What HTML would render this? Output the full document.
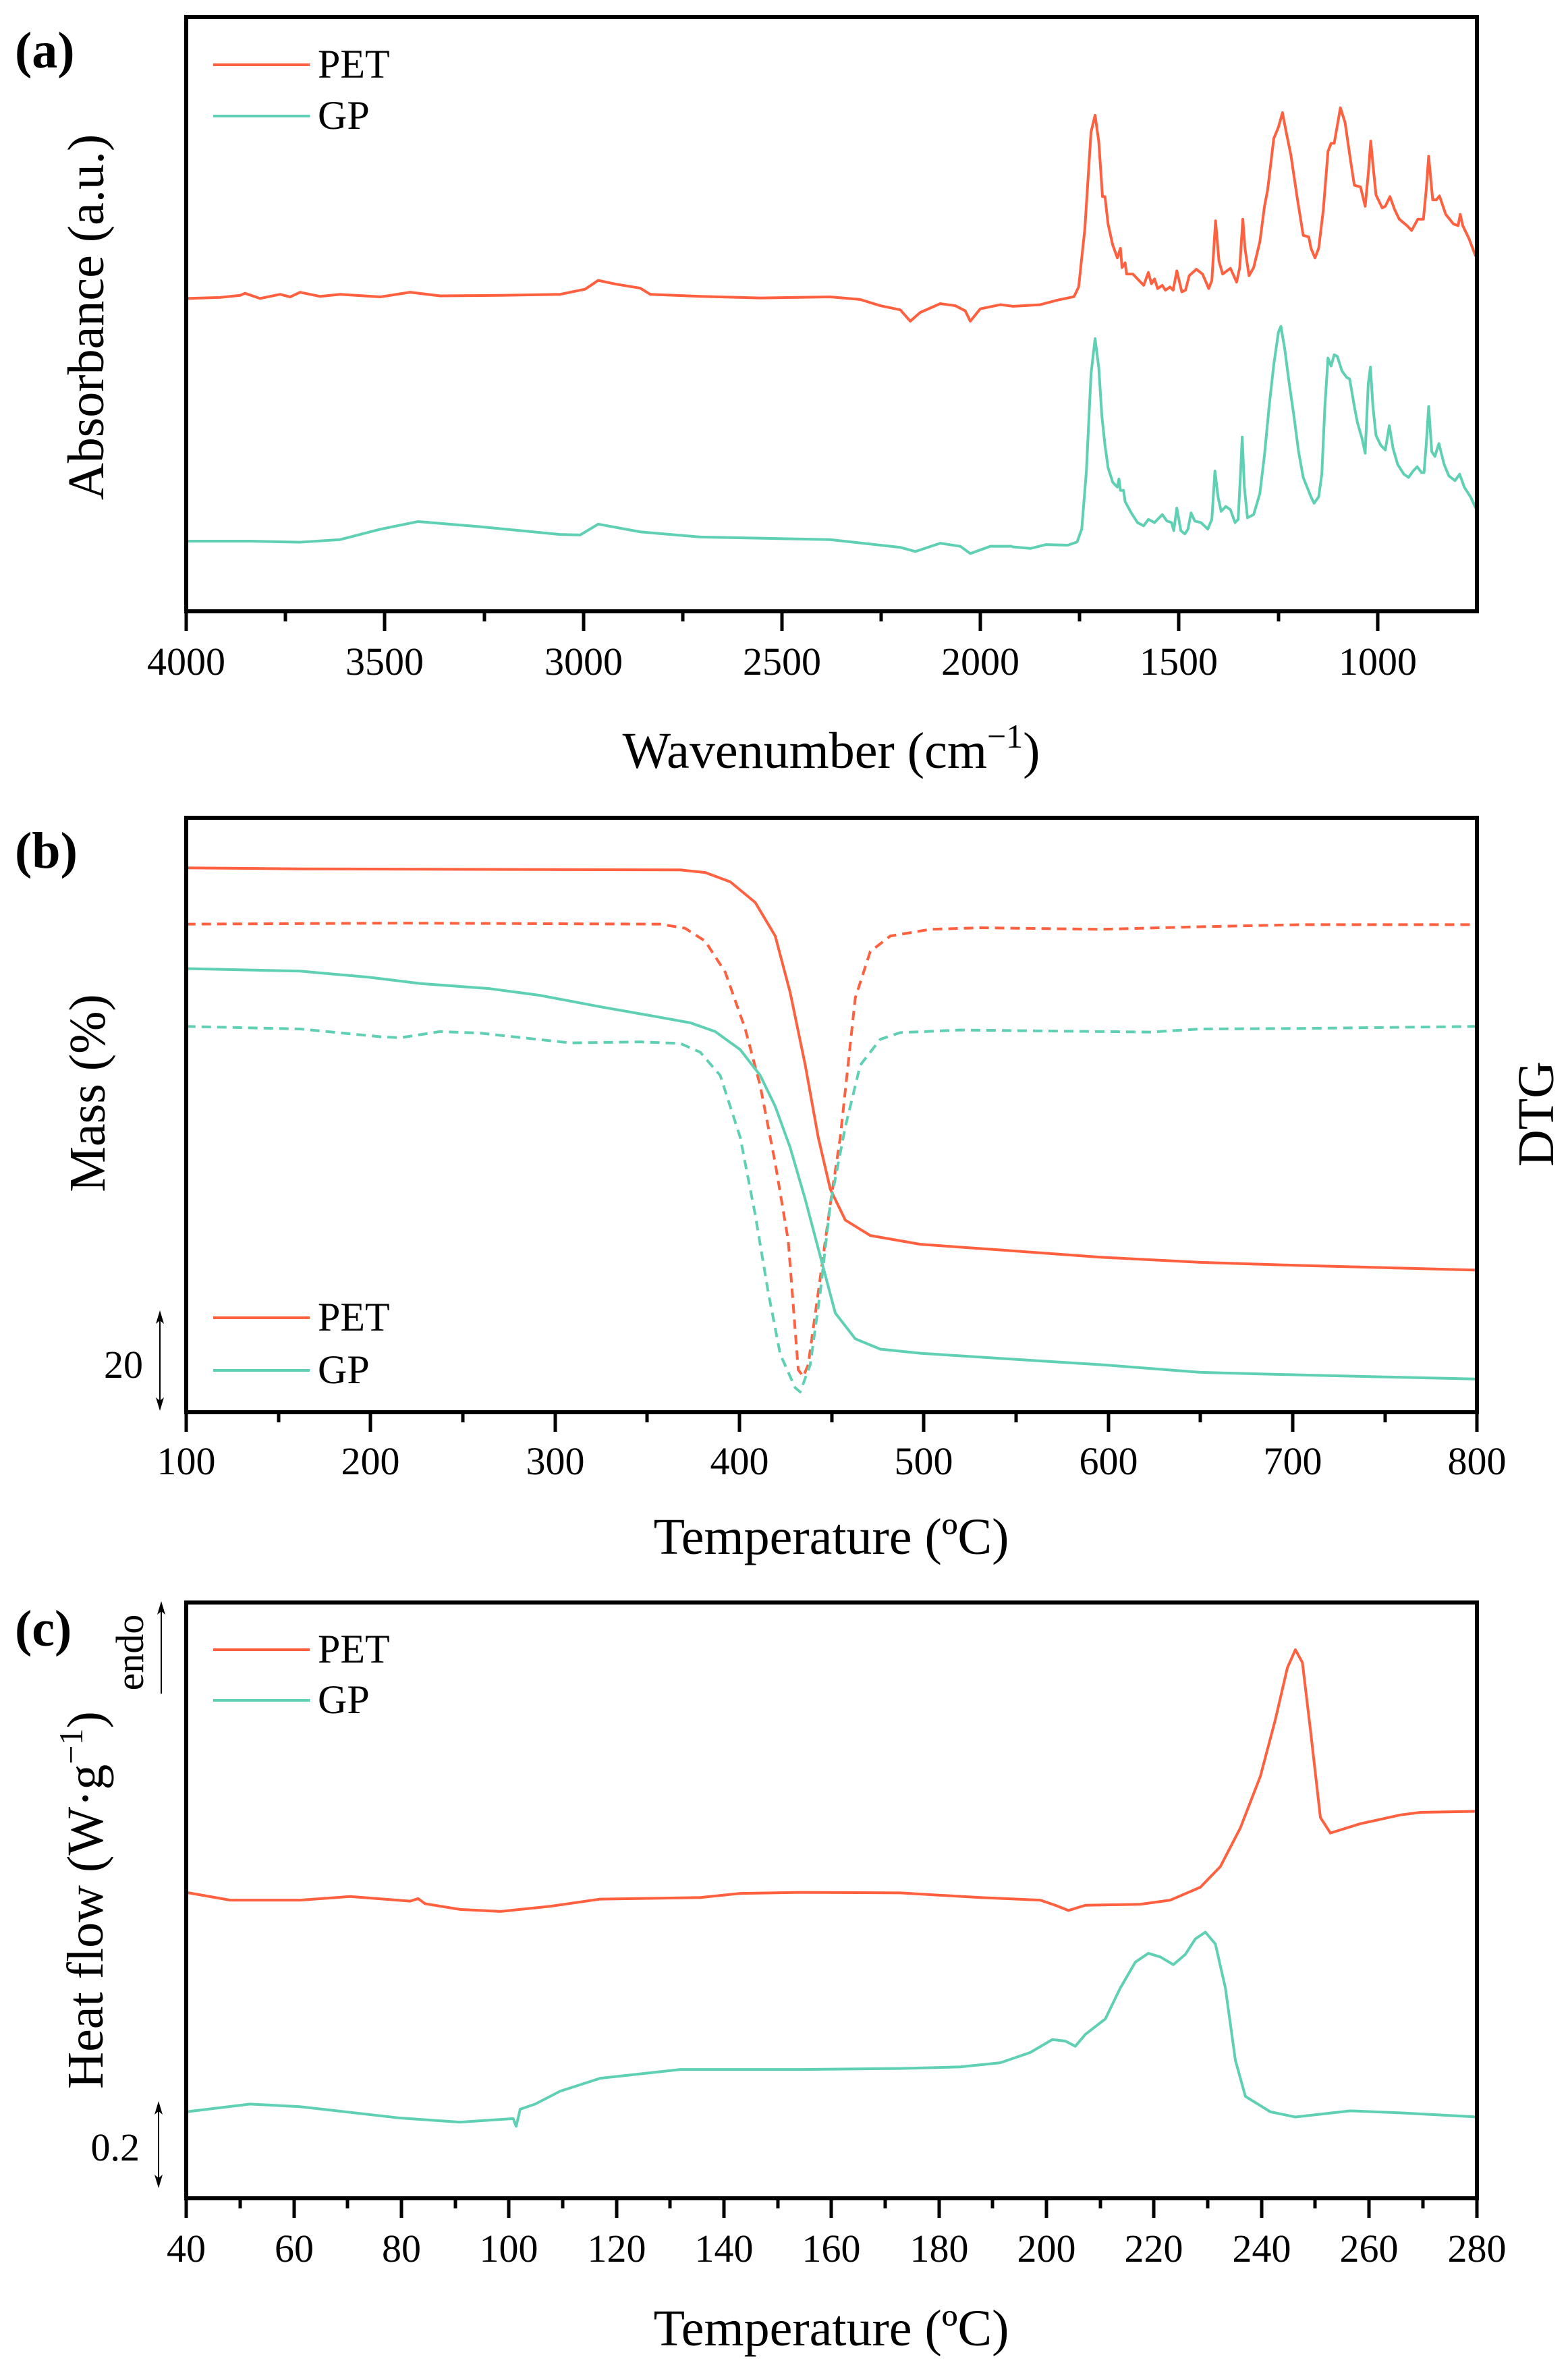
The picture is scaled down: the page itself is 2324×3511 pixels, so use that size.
<!DOCTYPE html>
<html><head><meta charset="utf-8"><style>
html,body{margin:0;padding:0;background:#fff;}
svg{display:block;}
text{font-family:"Liberation Serif",serif;fill:#000;}
.c{fill:none;stroke-width:4;vector-effect:non-scaling-stroke;stroke-linejoin:round;}
.p{stroke:#ff6140;}
.g{stroke:#5fd0b4;}
.d{stroke-dasharray:14 9;}
.t{font-size:58px;text-anchor:middle;}
.ti{font-size:76px;text-anchor:middle;}
.lg{font-size:60px;}
.lb{font-size:76px;font-weight:bold;}
</style></head><body>
<svg width="2324" height="3511" viewBox="0 0 2324 3511" xmlns="http://www.w3.org/2000/svg">

<!-- ============ PANEL A ============ -->
<text class="lb" x="22" y="100">(a)</text>
<g transform="scale(1.4826,0.7653)">
<polyline class="c p" points="186,578 220,576 240,572 245,568 260,578 280,570 290,575 300,566 320,574 340,570 380,575 410,566 440,573 500,572 560,570 585,560 598,543 615,550 640,558 650,570 700,574 760,577 830,575 860,580 880,592 900,600 910,622 920,605 940,588 955,592 965,602 970,622 980,598 1000,590 1012,593"/>
<polyline class="c g" points="186,1048 250,1048 300,1050 340,1045 380,1025 418,1010 480,1020 560,1035 580,1036 598,1015 640,1030 700,1040 830,1045 900,1060 915,1068 940,1052 960,1058 970,1072 990,1058 1012,1058"/>
</g>
<g transform="translate(1500,100) scale(0.4591,0.4784)">
<polyline class="c p" points="0,740 90,735 150,720 200,710 215,680 235,500 255,200 268,148 280,230 292,400 300,400 310,485 325,550 340,590 350,560 355,620 365,605 370,640 390,640 410,660 425,675 440,635 450,670 460,655 470,685 485,675 495,690 510,680 520,690 532,630 548,695 560,690 572,645 595,625 615,640 635,685 645,660 657,475 668,600 680,640 705,622 725,665 735,620 745,470 752,560 765,645 780,620 800,540 815,430 825,380 845,220 860,185 873,140 885,200 900,270 920,400 940,520 958,525 965,560 978,590 990,560 1005,440 1020,260 1030,235 1040,235 1060,125 1075,170 1090,270 1105,365 1125,370 1140,430 1150,330 1158,228 1165,300 1175,395 1195,435 1205,430 1220,400 1235,440 1250,470 1275,490 1290,505 1310,470 1328,470 1337,380 1345,275 1358,410 1370,410 1380,398 1400,455 1425,485 1440,490 1447,455 1455,490 1475,530 1497,585"/>
<polyline class="c g" points="0,1485 60,1490 110,1478 180,1480 210,1470 225,1430 240,1250 255,950 268,840 280,930 290,1080 300,1170 310,1240 325,1285 340,1300 345,1275 350,1310 360,1310 365,1345 385,1380 405,1410 425,1420 440,1400 460,1410 470,1400 485,1385 500,1405 515,1410 522,1435 532,1365 545,1435 558,1445 568,1430 578,1380 590,1405 610,1410 632,1430 645,1400 655,1250 665,1330 675,1375 690,1360 705,1370 720,1410 730,1400 738,1250 743,1145 750,1300 760,1395 780,1385 800,1320 815,1200 830,1050 845,920 860,820 868,802 880,870 895,980 910,1080 925,1190 940,1270 965,1330 975,1350 990,1330 1000,1260 1010,1050 1020,900 1030,925 1040,890 1050,895 1065,940 1080,960 1090,965 1105,1050 1115,1100 1130,1150 1140,1195 1150,980 1157,928 1165,1050 1175,1140 1190,1170 1205,1185 1218,1110 1230,1180 1245,1230 1265,1260 1280,1270 1295,1250 1308,1237 1322,1255 1330,1255 1337,1170 1345,1050 1355,1190 1365,1205 1378,1165 1395,1230 1410,1265 1430,1280 1445,1260 1460,1300 1480,1330 1497,1365"/>
</g>
<rect x="276" y="25" width="1913" height="881" fill="none" stroke="#000" stroke-width="6"/>
<g stroke="#000" stroke-width="5">
<path d="M276,906V935M570,906V935M865,906V935M1159,906V935M1453,906V935M1747,906V935M2042,906V935"/>
<path d="M423,906V921M718,906V921M1012,906V921M1306,906V921M1600,906V921M1895,906V921"/>
</g>
<text class="t" x="276" y="1000">4000</text><text class="t" x="570" y="1000">3500</text><text class="t" x="865" y="1000">3000</text><text class="t" x="1159" y="1000">2500</text><text class="t" x="1453" y="1000">2000</text><text class="t" x="1747" y="1000">1500</text><text class="t" x="2042" y="1000">1000</text>
<text class="ti" x="1232" y="1138">Wavenumber (cm<tspan font-size="50" dy="-30">−1</tspan><tspan dy="30">)</tspan></text>
<text class="ti" transform="translate(153,470) rotate(-90)" x="0" y="0">Absorbance (a.u.)</text>
<line x1="316" y1="96" x2="459" y2="96" class="c p"/>
<line x1="316" y1="172" x2="459" y2="172" class="c g"/>
<text class="lg" x="471" y="115">PET</text>
<text class="lg" x="471" y="191">GP</text>

<!-- ============ PANEL B ============ -->
<text class="lb" x="22" y="1286">(b)</text>
<g transform="translate(0,1150) scale(1.4826,0.7653)">
<polyline class="c p" points="186,178 300,180 680,182 705,187 730,205 755,245 775,310 790,420 805,560 818,700 830,800 845,860 870,890 920,907 1000,918 1100,932 1200,942 1300,948 1477,957"/>
<polyline class="c p d" points="186,287 400,285 660,287 685,295 705,320 725,380 745,490 760,600 775,750 788,900 798,1150 803,1163 808,1140 818,1000 830,830 840,700 855,430 870,340 890,310 930,297 980,294 1100,297 1200,292 1300,288 1477,288"/>
<polyline class="c g" points="186,373 300,378 370,390 420,402 490,412 540,425 600,447 650,464 690,478 715,495 740,530 760,580 775,640 790,720 805,820 820,930 835,1040 855,1090 880,1110 920,1118 1000,1128 1100,1140 1200,1155 1300,1160 1477,1168"/>
<polyline class="c g d" points="186,485 300,490 380,505 400,507 440,495 480,498 570,517 640,515 680,518 700,535 720,580 740,700 755,850 768,1000 780,1120 795,1185 800,1193 810,1140 820,1000 830,830 845,680 860,560 880,510 900,497 960,492 1100,495 1150,496 1200,490 1300,489 1477,485"/>
</g>
<rect x="276" y="1212" width="1913" height="881" fill="none" stroke="#000" stroke-width="6"/>
<g stroke="#000" stroke-width="5">
<path d="M276,2093V2122M549,2093V2122M823,2093V2122M1096,2093V2122M1369,2093V2122M1643,2093V2122M1916,2093V2122M2189,2093V2122"/>
<path d="M413,2093V2108M686,2093V2108M959,2093V2108M1233,2093V2108M1506,2093V2108M1779,2093V2108M2053,2093V2108"/>
</g>
<text class="t" x="276" y="2185">100</text><text class="t" x="549" y="2185">200</text><text class="t" x="823" y="2185">300</text><text class="t" x="1096" y="2185">400</text><text class="t" x="1369" y="2185">500</text><text class="t" x="1643" y="2185">600</text><text class="t" x="1916" y="2185">700</text><text class="t" x="2189" y="2185">800</text>
<text class="ti" x="1232" y="2303">Temperature (ºC)</text>
<text class="ti" transform="translate(155,1620) rotate(-90)">Mass (%)</text>
<text class="ti" transform="translate(2302,1651) rotate(-90)">DTG</text>
<line x1="316" y1="1953" x2="459" y2="1953" class="c p"/>
<line x1="316" y1="2031" x2="459" y2="2031" class="c g"/>
<text class="lg" x="471" y="1972">PET</text>
<text class="lg" x="471" y="2050">GP</text>
<line x1="237" y1="1950" x2="237" y2="2083" stroke="#000" stroke-width="2"/>
<polygon points="237,1942 231,1962 237,1957 243,1962" fill="#000"/>
<polygon points="237,2091 231,2071 237,2076 243,2071" fill="#000"/>
<text class="t" x="212" y="2042" style="text-anchor:end">20</text>

<!-- ============ PANEL C ============ -->
<text class="lb" x="22" y="2439">(c)</text>
<g transform="translate(0,2311) scale(1.4826,0.7653)">
<polyline class="c p" points="186,645 230,660 300,660 350,653 410,662 418,657 425,667 460,678 500,682 550,672 600,658 700,655 740,647 800,645 900,646 980,655 1040,660 1055,670 1068,680 1085,670 1140,668 1170,660 1200,635 1220,595 1240,520 1260,420 1275,310 1287,210 1295,175 1302,200 1310,330 1320,500 1330,530 1360,512 1400,495 1420,490 1477,488"/>
<polyline class="c g" points="186,1070 250,1055 300,1060 400,1082 460,1090 513,1083 516,1098 520,1065 535,1055 560,1030 600,1005 680,988 800,988 900,986 960,983 1000,975 1030,955 1052,930 1065,933 1075,943 1085,920 1105,890 1120,830 1135,780 1148,763 1160,770 1173,785 1185,765 1195,735 1205,722 1215,745 1225,830 1235,970 1245,1040 1270,1070 1295,1080 1350,1068 1400,1072 1477,1080"/>
</g>
<rect x="276" y="2375" width="1913" height="883" fill="none" stroke="#000" stroke-width="6"/>
<g stroke="#000" stroke-width="5">
<path d="M276,3258V3287M436,3258V3287M595,3258V3287M754,3258V3287M914,3258V3287M1073,3258V3287M1232,3258V3287M1392,3258V3287M1551,3258V3287M1710,3258V3287M1870,3258V3287M2029,3258V3287M2189,3258V3287"/>
<path d="M356,3258V3273M515,3258V3273M675,3258V3273M834,3258V3273M993,3258V3273M1153,3258V3273M1312,3258V3273M1471,3258V3273M1631,3258V3273M1790,3258V3273M1949,3258V3273M2109,3258V3273"/>
</g>
<text class="t" x="276" y="3352">40</text><text class="t" x="436" y="3352">60</text><text class="t" x="595" y="3352">80</text><text class="t" x="754" y="3352">100</text><text class="t" x="914" y="3352">120</text><text class="t" x="1073" y="3352">140</text><text class="t" x="1232" y="3352">160</text><text class="t" x="1392" y="3352">180</text><text class="t" x="1551" y="3352">200</text><text class="t" x="1710" y="3352">220</text><text class="t" x="1870" y="3352">240</text><text class="t" x="2029" y="3352">260</text><text class="t" x="2189" y="3352">280</text>
<text class="ti" x="1232" y="3476">Temperature (ºC)</text>
<text class="ti" transform="translate(152,2816) rotate(-90)">Heat flow (W·g<tspan font-size="50" dy="-30">−1</tspan><tspan dy="30">)</tspan></text>
<text transform="translate(212,2449) rotate(-90)" style="font-size:58px;text-anchor:middle">endo</text>
<line x1="239" y1="2381" x2="239" y2="2510" stroke="#000" stroke-width="2"/>
<polygon points="239,2373 233,2393 239,2388 245,2393" fill="#000"/>
<line x1="235" y1="3122" x2="235" y2="3235" stroke="#000" stroke-width="2"/>
<polygon points="235,3114 229,3134 235,3129 241,3134" fill="#000"/>
<polygon points="235,3243 229,3223 235,3228 241,3223" fill="#000"/>
<line x1="316" y1="2445" x2="459" y2="2445" class="c p"/>
<line x1="316" y1="2520" x2="459" y2="2520" class="c g"/>
<text class="lg" x="471" y="2464">PET</text>
<text class="lg" x="471" y="2539">GP</text>
<text class="t" x="207" y="3202" style="text-anchor:end">0.2</text>
</svg>
</body></html>
